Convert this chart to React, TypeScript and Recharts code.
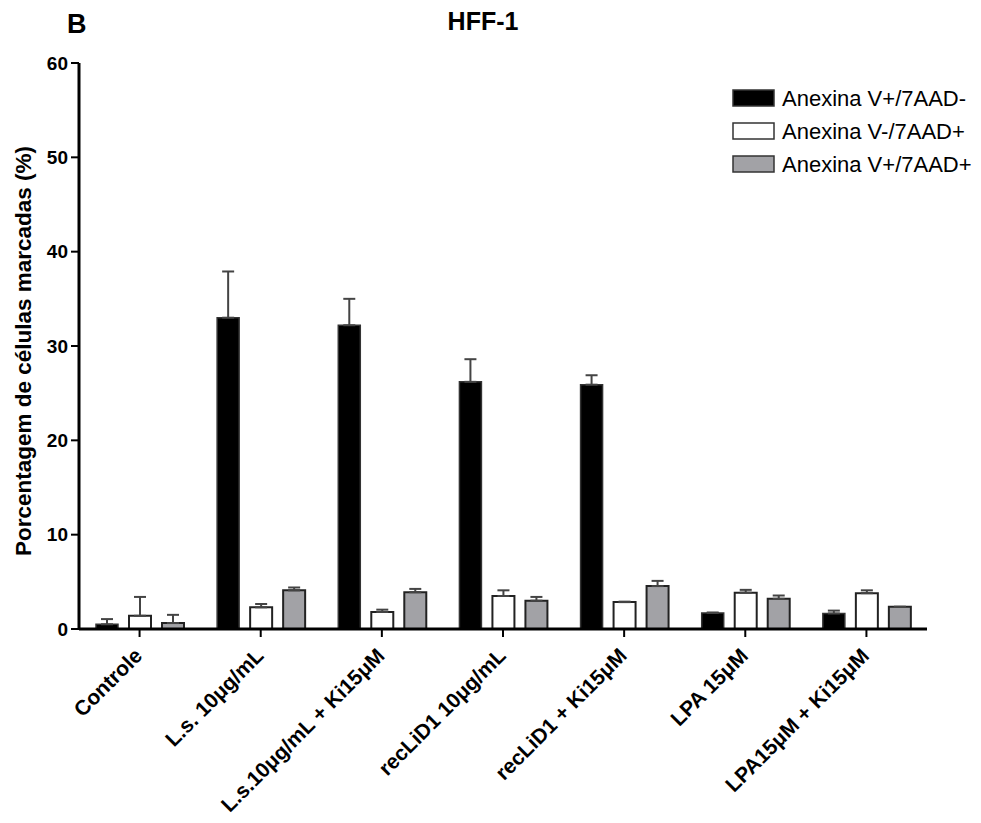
import { BarChart, Bar, XAxis, YAxis, ErrorBar } from 'recharts';

// HFF-1: percentage of labelled cells (mean + SEM, upper error only)
const categories = [
  'Controle',
  'L.s. 10μg/mL',
  'L.s.10μg/mL + Ki15μM',
  'recLiD1 10μg/mL',
  'recLiD1 + Ki15μM',
  'LPA 15μM',
  'LPA15μM + Ki15μM',
];

const seriesNames = ['Anexina V+/7AAD-', 'Anexina V-/7AAD+', 'Anexina V+/7AAD+'];

const apoptotic = [0.5, 33.0, 32.2, 26.2, 25.9, 1.7, 1.65];
const apoptoticErr = [0.55, 4.9, 2.8, 2.4, 1.0, 0.05, 0.3];

const necrotic = [1.4, 2.3, 1.8, 3.5, 2.85, 3.85, 3.8];
const necroticErr = [2.0, 0.35, 0.25, 0.6, 0.05, 0.3, 0.3];

const lateApoptotic = [0.63, 4.1, 3.9, 3.0, 4.55, 3.2, 2.35];
const lateApoptoticErr = [0.87, 0.3, 0.35, 0.4, 0.55, 0.35, 0];

const yTicks = [0, 10, 20, 30, 40, 50, 60];

const COLORS = ['#000000', '#ffffff', '#a2a2a6'];
const FONT = '"Liberation Sans", Arial, Helvetica, sans-serif';

const data = categories.map((name, i) => ({
  name,
  s0: apoptotic[i],
  e0: [0, apoptoticErr[i]],
  s1: necrotic[i],
  e1: [0, necroticErr[i]],
  s2: lateApoptotic[i],
  e2: [0, lateApoptoticErr[i]],
}));

function XTick({ x, y, payload }: { x: number; y: number; payload: { value: string } }) {
  const tx = x + 4;
  const ty = y + 18;
  return (
    <text
      x={tx}
      y={ty}
      transform={`rotate(-45 ${tx} ${ty})`}
      textAnchor="end"
      fontFamily={FONT}
      fontWeight="bold"
      fontSize={21}
      fill="#000"
    >
      {payload.value}
    </text>
  );
}

export default function App() {
  return (
    <div style={{ position: 'absolute', left: 0, top: 0, width: 981, height: 823, background: '#fff' }}>
      <style>{'body{margin:0}'}</style>
      <BarChart
        width={981}
        height={823}
        data={data}
        margin={{ top: 63, right: 54, bottom: 164, left: 19 }}
        barSize={22}
        barGap={11}
      >
        <XAxis
          dataKey="name"
          height={30}
          interval={0}
          tick={XTick}
          tickSize={8}
          axisLine={{ stroke: '#000', strokeWidth: 3 }}
          tickLine={{ stroke: '#000', strokeWidth: 2 }}
        />
        <YAxis
          width={60}
          domain={[0, 60]}
          ticks={yTicks}
          interval={0}
          tickSize={8}
          tickMargin={3}
          axisLine={{ stroke: '#000', strokeWidth: 3 }}
          tickLine={{ stroke: '#000', strokeWidth: 2 }}
          tick={{ fill: '#000', fontSize: 19, fontWeight: 'bold', fontFamily: FONT }}
        />
        <Bar dataKey="s0" name={seriesNames[0]} fill={COLORS[0]} stroke="#333" strokeWidth={1.5} isAnimationActive={false}>
          <ErrorBar dataKey="e0" direction="y" width={6} stroke="#444" strokeWidth={2} />
        </Bar>
        <Bar dataKey="s1" name={seriesNames[1]} fill={COLORS[1]} stroke="#222" strokeWidth={2} isAnimationActive={false}>
          <ErrorBar dataKey="e1" direction="y" width={6} stroke="#444" strokeWidth={2} />
        </Bar>
        <Bar dataKey="s2" name={seriesNames[2]} fill={COLORS[2]} stroke="#222" strokeWidth={2} isAnimationActive={false}>
          <ErrorBar dataKey="e2" direction="y" width={6} stroke="#444" strokeWidth={2} />
        </Bar>
      </BarChart>

      {/* títulos, rótulo do eixo Y e legenda */}
      <svg width={981} height={823} style={{ position: 'absolute', left: 0, top: 0, pointerEvents: 'none' }}>
        <text x={67} y={33} fontFamily={FONT} fontWeight="bold" fontSize={27} fill="#000">B</text>
        <text x={483} y={30} textAnchor="middle" fontFamily={FONT} fontWeight="bold" fontSize={25} fill="#000">HFF-1</text>
        <text
          x={23}
          y={351}
          transform="rotate(-90 23 351)"
          textAnchor="middle"
          dominantBaseline="central"
          fontFamily={FONT}
          fontWeight="bold"
          fontSize={22.5}
          fill="#000"
        >
          Porcentagem de células marcadas (%)
        </text>
        {seriesNames.map((name, i) => (
          <g key={name}>
            <rect x={733} y={90 + i * 33} width={41} height={16} fill={COLORS[i]} stroke="#333" strokeWidth={1.5} />
            <text x={782} y={106 + i * 33} fontFamily={FONT} fontSize={22} fill="#000">{name}</text>
          </g>
        ))}
      </svg>
    </div>
  );
}
